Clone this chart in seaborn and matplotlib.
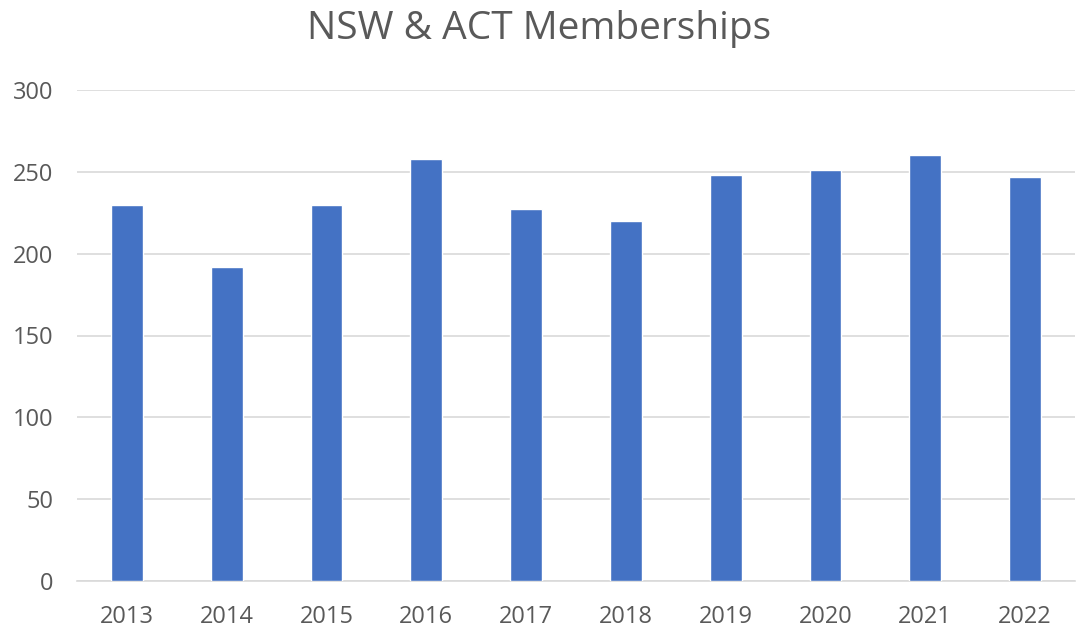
import matplotlib
matplotlib.use("Agg")
import matplotlib.pyplot as plt
import seaborn as sns
import pandas as pd

years = ["2013", "2014", "2015", "2016", "2017", "2018", "2019", "2020", "2021", "2022"]
members = [230, 192, 230, 258, 227, 220, 248, 251, 260, 247]
title = "NSW & ACT Memberships"
yticks = [0, 50, 100, 150, 200, 250, 300]

sns.set_theme(style="white")
plt.rcParams['font.family'] = ['Open Sans', 'DejaVu Sans']

df = pd.DataFrame({"year": years, "members": members})

fig = plt.figure(figsize=(10.79, 6.29), dpi=100)
ax = fig.add_axes([77 / 1079, 1 - 581 / 629, (1075 - 77) / 1079, (581 - 90) / 629])

sns.barplot(data=df, x="year", y="members", color="#4472C4", saturation=1,
            width=0.32, ax=ax, zorder=3)

ax.set_ylim(0, 300)
ax.set_yticks(yticks)
ax.set_xlim(-0.5, len(years) - 0.5)
ax.yaxis.grid(True, color="#d9d9d9", linewidth=1.2, zorder=0)
ax.xaxis.grid(False)
for s in ["top", "right", "left"]:
    ax.spines[s].set_visible(False)
ax.spines["bottom"].set_color("#d9d9d9")
ax.spines["bottom"].set_linewidth(1.2)
ax.set_xlabel("")
ax.set_ylabel("")
ax.tick_params(axis="y", length=0, pad=17, labelsize=17, labelcolor="#595959")
ax.tick_params(axis="x", length=0, pad=17, labelsize=17, labelcolor="#595959")

fig.text(0.5, 1 - 29 / 629, title, ha="center", va="center", fontsize=28, color="#595959")

fig.savefig("out.png", dpi=100, facecolor="white")
